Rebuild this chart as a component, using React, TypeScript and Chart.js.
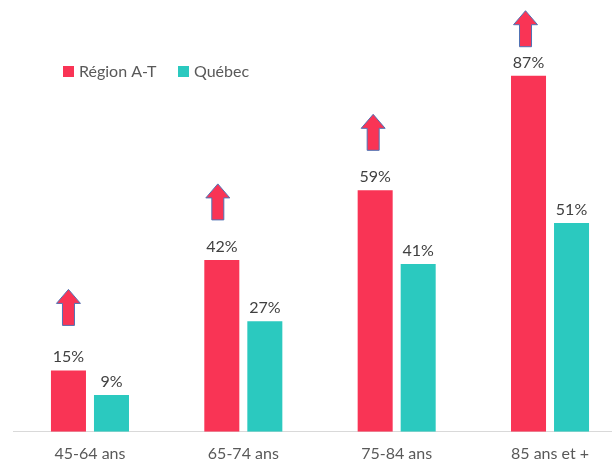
import React, { useEffect, useRef } from "react";
import { Chart, registerables } from "chart.js";

Chart.register(...registerables);

const categories = ["45-64 ans", "65-74 ans", "75-84 ans", "85 ans et +"];
const regionValues = [15, 42, 59, 87];
const quebecValues = [9, 27, 41, 51];
const seriesNames = ["Région A-T", "Québec"];

const RED = "#F93455";
const TEAL = "#2BC9BF";
const TEXT = "#595959";
const FONT = "Lato, 'Open Sans', sans-serif";

// arrow annotation placement (pixel gap above red bar top, horizontal nudge)
const arrowGap = [45, 40, 40, 29];
const arrowShift = [0, -4, -2, -3];

const labelPlugin = {
  id: "valueLabels",
  afterDatasetsDraw(chart: any) {
    const ctx = chart.ctx;
    ctx.save();
    ctx.font = `16px ${FONT}`;
    ctx.fillStyle = "#404040";
    ctx.textAlign = "center";
    ctx.textBaseline = "alphabetic";
    chart.data.datasets.forEach((ds: any, di: number) => {
      const meta = chart.getDatasetMeta(di);
      meta.data.forEach((bar: any, i: number) => {
        ctx.fillText(ds.data[i] + "%", bar.x, bar.y - 8);
      });
    });
    // arrows over red bars
    const meta0 = chart.getDatasetMeta(0);
    meta0.data.forEach((bar: any, i: number) => {
      const cx = bar.x + arrowShift[i];
      const bottom = bar.y - arrowGap[i];
      const top = bottom - 36;
      const headH = 14;
      const headW = 12;
      const shaftW = 6;
      ctx.beginPath();
      ctx.moveTo(cx, top);
      ctx.lineTo(cx + headW, top + headH);
      ctx.lineTo(cx + shaftW, top + headH);
      ctx.lineTo(cx + shaftW, bottom);
      ctx.lineTo(cx - shaftW, bottom);
      ctx.lineTo(cx - shaftW, top + headH);
      ctx.lineTo(cx - headW, top + headH);
      ctx.closePath();
      ctx.fillStyle = RED;
      ctx.fill();
      ctx.strokeStyle = "#4F73B5";
      ctx.lineWidth = 1;
      ctx.stroke();
    });
    // legend
    ctx.font = `16px ${FONT}`;
    ctx.textAlign = "left";
    ctx.textBaseline = "middle";
    const legendItems = [
      { x: 63, color: RED, text: seriesNames[0] },
      { x: 178, color: TEAL, text: seriesNames[1] },
    ];
    legendItems.forEach((it) => {
      ctx.fillStyle = it.color;
      ctx.fillRect(it.x, 66, 11, 11);
      ctx.fillStyle = TEXT;
      ctx.fillText(it.text, it.x + 16, 72);
    });
    ctx.restore();
  },
};

export default function App() {
  const ref = useRef<HTMLCanvasElement>(null);
  useEffect(() => {
    if (!ref.current) return;
    const chart = new Chart(ref.current, {
      type: "bar",
      data: {
        labels: categories,
        datasets: [
          { label: seriesNames[0], data: regionValues, backgroundColor: RED },
          { label: seriesNames[1], data: quebecValues, backgroundColor: TEAL },
        ],
      },
      options: {
        animation: false,
        responsive: false,
        maintainAspectRatio: false,
        layout: { padding: { left: 13.3, right: 13.3, top: 22.5, bottom: 0 } },
        datasets: {
          bar: { categoryPercentage: 0.561, barPercentage: 0.814 },
        } as any,
        plugins: {
          legend: { display: false },
          tooltip: { enabled: false },
        },
        scales: {
          x: {
            grid: { display: false, drawTicks: false },
            border: { display: true, color: "#D9D9D9", width: 1 },
            ticks: {
              color: TEXT,
              font: { family: FONT, size: 16 },
              padding: 12,
              maxRotation: 0,
            },
          },
          y: {
            display: false,
            min: 0,
            max: 100,
          },
        },
      },
      plugins: [labelPlugin],
    });
    return () => chart.destroy();
  }, []);
  return (
    <div
      style={{
        position: "fixed",
        left: 0,
        top: 0,
        width: 612,
        height: 460,
        overflow: "hidden",
        background: "#fff",
      }}
    >
      <canvas ref={ref} width={640} height={475} style={{ width: 640, height: 475 }} />
    </div>
  );
}
